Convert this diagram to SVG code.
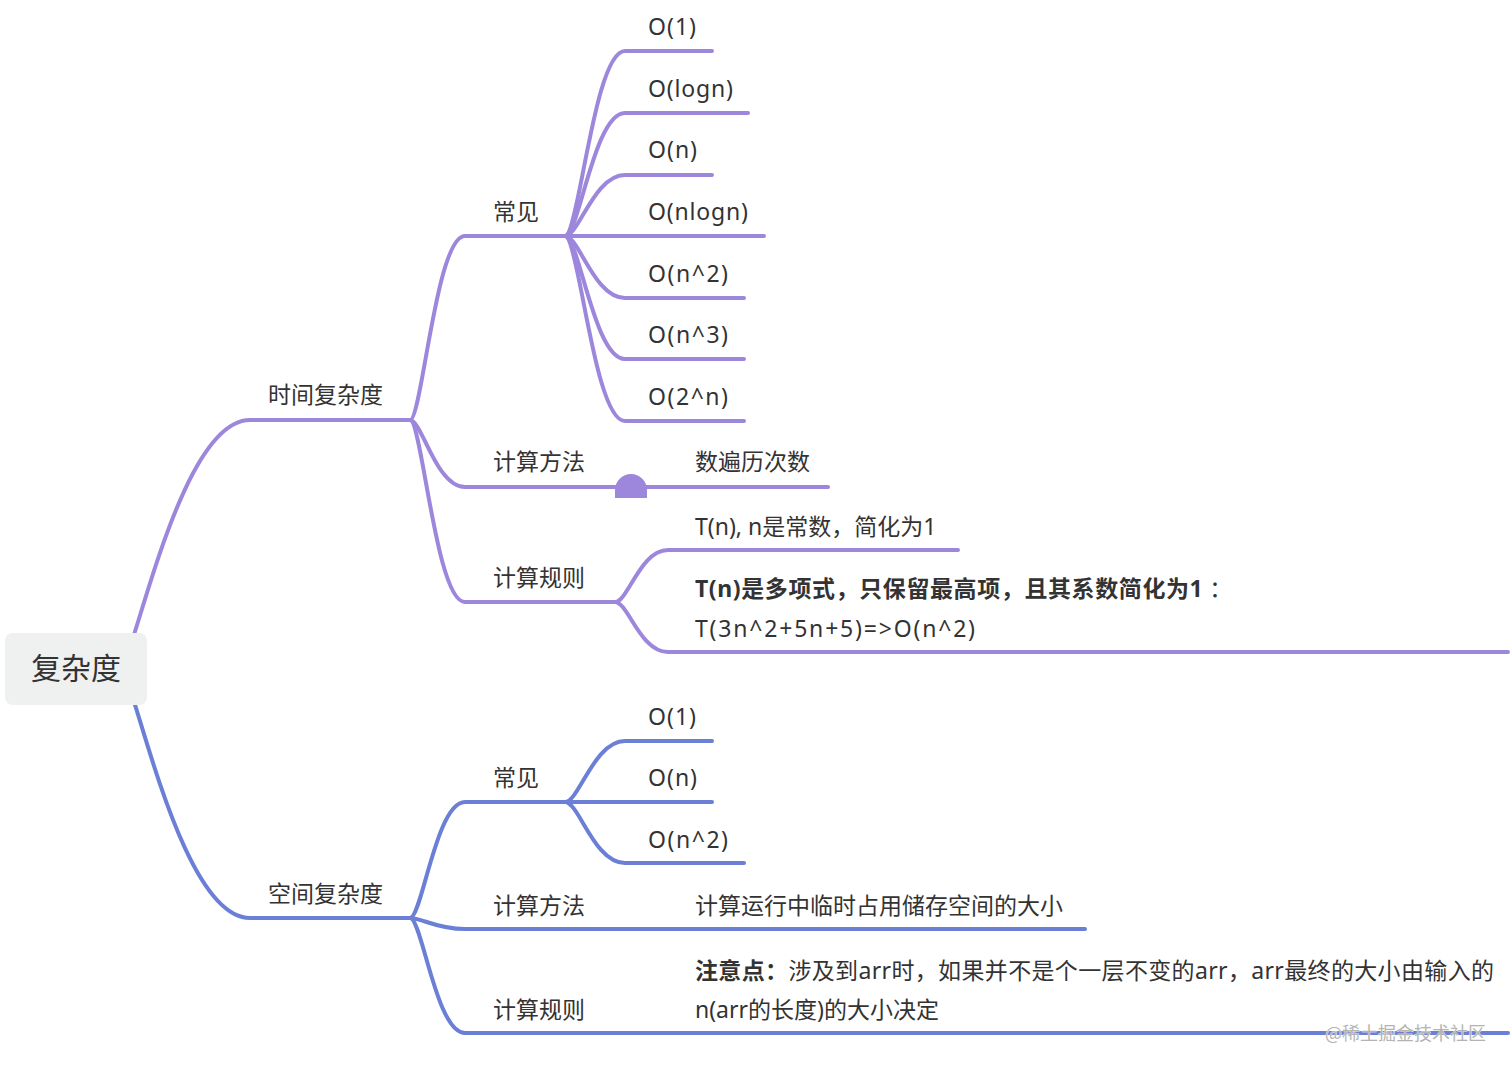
<svg xmlns="http://www.w3.org/2000/svg" width="1512" height="1071" viewBox="0 0 1512 1071">
<style>
.t{font-family:"Noto Sans","Noto Sans CJK SC",sans-serif;font-size:23px;fill:#333}
.b{font-weight:bold}
.p{fill:none;stroke:#9d87dd;stroke-width:4;stroke-linecap:round;stroke-linejoin:round}
.q{fill:none;stroke:#6b7fd7;stroke-width:4;stroke-linecap:round;stroke-linejoin:round}
</style>
<rect width="1512" height="1071" fill="#ffffff"/>
<g id="connectors">
<path class="p" d="M120 668 C133 668 178.5 420 250 420 L410 420"/>
<path class="p" d="M410 420 C422 420 436 236 465 236 L565 236"/>
<path class="p" d="M410 420 C422 420 436 487 465 487 L615 487"/>
<path class="p" d="M410 420 C422 420 436 602 465 602 L615 602"/>
<path class="p" d="M565 236 C579 236 594 51 625 51 L712 51"/>
<path class="p" d="M565 236 C579 236 594 113 625 113 L748 113"/>
<path class="p" d="M565 236 C579 236 594 175 625 175 L712 175"/>
<path class="p" d="M565 236 L764 236"/>
<path class="p" d="M565 236 C579 236 594 298 625 298 L744 298"/>
<path class="p" d="M565 236 C579 236 594 359 625 359 L744 359"/>
<path class="p" d="M565 236 C579 236 594 421 625 421 L744 421"/>
<path class="p" d="M615 487 L828 487"/>
<path d="M615 498 L615 490 A16 16 0 0 1 647 490 L647 498 Z" fill="#9d87dd"/>
<path class="p" d="M615 602 C628 602 640 550 668 550 L958 550"/>
<path class="p" d="M615 602 C628 602 640 652 668 652 L1508 652"/>
<path class="q" d="M120 668 C133 668 178.5 918 250 918 L410 918"/>
<path class="q" d="M410 918 C422 918 436 802 465 802 L565 802"/>
<path class="q" d="M410 918 C422 918 436 929 465 929 L615 929"/>
<path class="q" d="M410 918 C422 918 436 1033 465 1033 L615 1033"/>
<path class="q" d="M565 802 C579 802 594 741 625 741 L712 741"/>
<path class="q" d="M565 802 L712 802"/>
<path class="q" d="M565 802 C579 802 594 863 625 863 L744 863"/>
<path class="q" d="M615 929 L1085 929"/>
<path class="q" d="M615 1033 L1508 1033"/>
</g>
<g id="root">
<rect x="5" y="633" width="142" height="72" rx="8" fill="#eff0f0"/>
<text class="t" x="76" y="679" text-anchor="middle" style="font-size:30px">复杂度</text>
</g>
<g id="time"><text class="t" x="268" y="403">时间复杂度</text></g>
<g id="time-common"><text class="t" x="493" y="220">常见</text></g>
<g id="t-o1"><text class="t" x="648" y="35" textLength="48" lengthAdjust="spacing">O(1)</text></g>
<g id="t-ologn"><text class="t" x="648" y="97" textLength="85" lengthAdjust="spacing">O(logn)</text></g>
<g id="t-on"><text class="t" x="648" y="158" textLength="49" lengthAdjust="spacing">O(n)</text></g>
<g id="t-onlogn"><text class="t" x="648" y="220" textLength="100" lengthAdjust="spacing">O(nlogn)</text></g>
<g id="t-on2"><text class="t" x="648" y="282" textLength="80" lengthAdjust="spacing">O(n^2)</text></g>
<g id="t-on3"><text class="t" x="648" y="343" textLength="80" lengthAdjust="spacing">O(n^3)</text></g>
<g id="t-o2n"><text class="t" x="648" y="405" textLength="80" lengthAdjust="spacing">O(2^n)</text></g>
<g id="time-method"><text class="t" x="493" y="470">计算方法</text></g>
<g id="time-method-1"><text class="t" x="695" y="470">数遍历次数</text></g>
<g id="time-rule"><text class="t" x="493" y="586">计算规则</text></g>
<g id="time-rule-1"><text class="t" x="695" y="535">T(n), n是常数，简化为1</text></g>
<g id="time-rule-2">
<text class="t" x="695" y="597"><tspan class="b" style="letter-spacing:0.6px">T(n)是多项式，只保留最高项，且其系数简化为1</tspan> ：</text>
<text class="t" x="695" y="637" textLength="280" lengthAdjust="spacing">T(3n^2+5n+5)=&gt;O(n^2)</text>
</g>
<g id="space"><text class="t" x="268" y="902">空间复杂度</text></g>
<g id="space-common"><text class="t" x="493" y="786">常见</text></g>
<g id="s-o1"><text class="t" x="648" y="725" textLength="48" lengthAdjust="spacing">O(1)</text></g>
<g id="s-on"><text class="t" x="648" y="786" textLength="49" lengthAdjust="spacing">O(n)</text></g>
<g id="s-on2"><text class="t" x="648" y="848" textLength="80" lengthAdjust="spacing">O(n^2)</text></g>
<g id="space-method"><text class="t" x="493" y="914">计算方法</text></g>
<g id="space-method-1"><text class="t" x="695" y="914">计算运行中临时占用储存空间的大小</text></g>
<g id="space-rule"><text class="t" x="493" y="1018">计算规则</text></g>
<g id="space-rule-1">
<text class="t" x="695" y="979" style="letter-spacing:0.35px"><tspan class="b">注意点：</tspan>涉及到arr时，如果并不是个一层不变的arr，arr最终的大小由输入的</text>
<text class="t" x="695" y="1018">n(arr的长度)的大小决定</text>
</g>
<text x="1325" y="1040" style="font-family:'Noto Sans CJK SC',sans-serif;font-size:18px;fill:#b4b4b4;stroke:#ffffff;stroke-width:0.6;paint-order:stroke">@稀土掘金技术社区</text>
</svg>
